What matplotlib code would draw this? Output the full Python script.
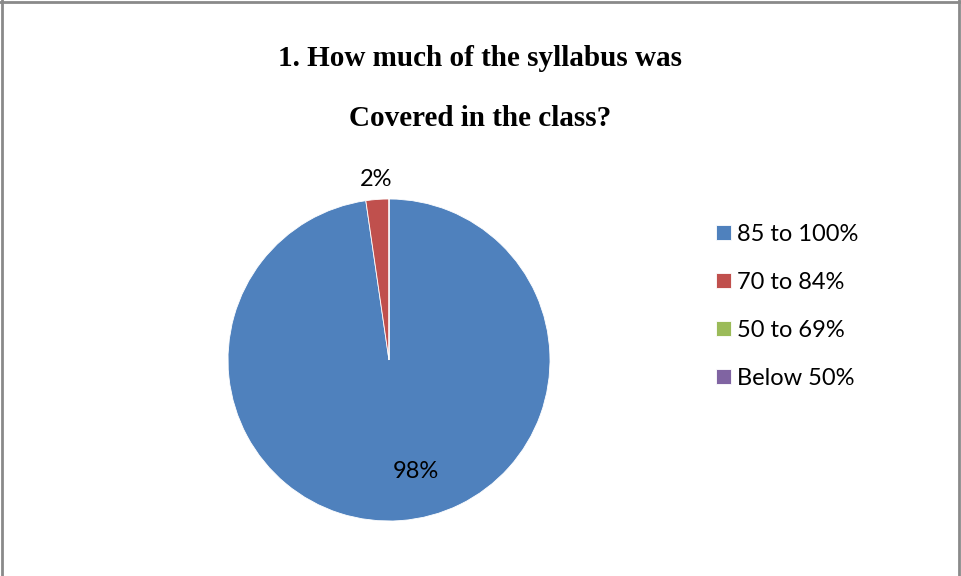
import matplotlib
matplotlib.use("Agg")
import matplotlib.pyplot as plt
from matplotlib.lines import Line2D
import numpy as np

categories = ["85 to 100%", "70 to 84%", "50 to 69%", "Below 50%"]
values = [97.7, 2.3, 0.0, 0.0]
pct_labels = ["98%", "2%", "", ""]
colors = ["#4F81BD", "#C0504D", "#9BBB59", "#8064A2"]
title_lines = ["1. How much of the syllabus was", "Covered in the class?"]

W, H = 961, 576
fig = plt.figure(figsize=(W / 100, H / 100), dpi=100)
fig.patch.set_facecolor("white")

# border (top, left, right)
for xs, ys in [((0, W), (H - 1.5, H - 1.5)), ((1.5, 1.5), (0, H)), ((W - 2, W - 2), (0, H))]:
    fig.add_artist(Line2D([x / W for x in xs], [y / H for y in ys],
                          color="#8a8a8a", linewidth=2, transform=fig.transFigure))

# title
fig.text(480 / W, 1 - 58 / H, title_lines[0], ha="center", va="center",
         family="Liberation Serif", weight="bold", fontsize=21)
fig.text(480 / W, 1 - 118 / H, title_lines[1], ha="center", va="center",
         family="Liberation Serif", weight="bold", fontsize=21)

cx, cy, r = 389, 360, 161
ax = fig.add_axes([(cx - r) / W, (H - cy - r) / H, 2 * r / W, 2 * r / H])
wedges, _ = ax.pie(values, colors=colors, startangle=90, counterclock=False,
                   radius=1, wedgeprops=dict(edgecolor="white", linewidth=0.6))
ax.set_xlim(-1, 1)
ax.set_ylim(-1, 1)
ax.set_aspect("equal")
ax.axis("off")

# data labels
ax.text(27 / r, -112 / r, pct_labels[0], ha="center", va="center",
        family="Lato", fontsize=17, color="black")
ax.text(-13 / r, 180 / r, pct_labels[1], ha="center", va="center",
        family="Lato", fontsize=17, color="black")

leg = fig.legend(wedges, categories, loc="upper left",
                 bbox_to_anchor=(716 / W, 1 - 224 / H), frameon=False,
                 prop=dict(family="Lato", size=17), handlelength=0.65,
                 handleheight=0.62, handletextpad=0.25, labelspacing=1.14,
                 borderpad=0, borderaxespad=0)

fig.savefig("out.png", dpi=100, facecolor="white")
